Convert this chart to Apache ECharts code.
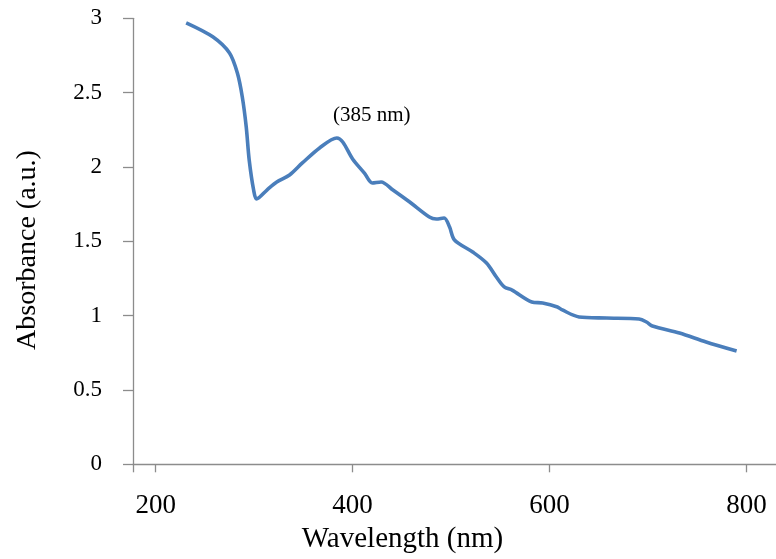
<!DOCTYPE html>
<html>
<head>
<meta charset="utf-8">
<title>Absorbance spectrum</title>
<script src="https://cdn.jsdelivr.net/npm/echarts@6.0.0/dist/echarts.min.js"></script>
<style>
  html, body { margin: 0; padding: 0; background: #fff; }
  #chart { width: 776px; height: 559px; }
</style>
</head>
<body>
<div id="chart"></div>
<script>
  // values
  const wavelength = [231, 258, 275, 283, 288, 292, 295, 299.5, 302.5, 313, 323, 336, 349, 366.5, 384, 390, 400, 412, 420, 429, 441, 458, 478, 485, 493, 498.5, 503.5, 522, 536, 546, 554, 562, 582, 593, 608, 613, 630, 658, 691, 698.5, 704.5, 732, 759, 790]
  const absorbance = [2.97, 2.876, 2.767, 2.632, 2.471, 2.269, 2.047, 1.845, 1.785, 1.845, 1.899, 1.946, 2.027, 2.128, 2.195, 2.168, 2.054, 1.959, 1.892, 1.899, 1.845, 1.764, 1.663, 1.65, 1.657, 1.596, 1.509, 1.428, 1.354, 1.26, 1.193, 1.172, 1.092, 1.085, 1.058, 1.038, 0.991, 0.984, 0.977, 0.957, 0.93, 0.883, 0.823, 0.762]
  const xTicks = [200, 400, 600, 800]
  const peak = [384, 2.195]
  const peakText = '(385 nm)'

  const serif = '"Liberation Serif", "Times New Roman", serif'
  const axisColor = '#8c8c8c'

  const chart = echarts.init(document.getElementById('chart'), null, { renderer: 'canvas' })

  const option = {
    animation: false,
    backgroundColor: '#fff',
    grid: {
      left: 133,
      right: 0,
      top: 18.3,
      bottom: 94.7,
      containLabel: false,
      outerBoundsMode: 'none'
    },
    xAxis: {
      type: 'value',
      min: 177,
      max: 830,
      splitLine: { show: false },
      axisLine: { show: true, onZero: false, lineStyle: { color: axisColor, width: 1.3 } },
      axisTick: {
        show: true,
        length: 8,
        customValues: [177].concat(xTicks),
        lineStyle: { color: axisColor, width: 1.3 }
      },
      axisLabel: {
        customValues: xTicks,
        margin: 28,
        color: '#000',
        fontFamily: serif,
        fontSize: 27
      }
    },
    yAxis: {
      type: 'value',
      min: 0,
      max: 3,
      interval: 0.5,
      splitLine: { show: false },
      axisLine: { show: true, lineStyle: { color: axisColor, width: 1.3 } },
      axisTick: { show: true, length: 10, lineStyle: { color: axisColor, width: 1.3 } },
      axisLabel: {
        margin: 31,
        color: '#000',
        fontFamily: serif,
        fontSize: 23
      }
    },
    // axis titles
    graphic: [
      {
        type: 'text',
        x: 402.5,
        y: 539,
        style: {
          text: 'Wavelength (nm)',
          textAlign: 'center',
          textVerticalAlign: 'middle',
          font: '29px ' + serif,
          fill: '#000'
        }
      },
      {
        type: 'text',
        x: 28,
        y: 250,
        rotation: Math.PI / 2,
        style: {
          text: 'Absorbance (a.u.)',
          textAlign: 'center',
          textVerticalAlign: 'middle',
          font: '28px ' + serif,
          fill: '#000'
        }
      }
    ],
    series: [
      {
        type: 'line',
        data: wavelength.map((w, i) => [w, absorbance[i]]),
        smooth: 0.3,
        showSymbol: false,
        symbol: 'none',
        lineStyle: { color: '#4a7ebb', width: 3.6 },
        markPoint: {
          symbol: 'circle',
          symbolSize: 0,
          data: [{ coord: peak }],
          label: {
            show: true,
            formatter: peakText,
            offset: [35, -22],
            color: '#000',
            fontFamily: serif,
            fontSize: 21
          }
        }
      }
    ]
  }

  chart.setOption(option)
</script>
</body>
</html>
